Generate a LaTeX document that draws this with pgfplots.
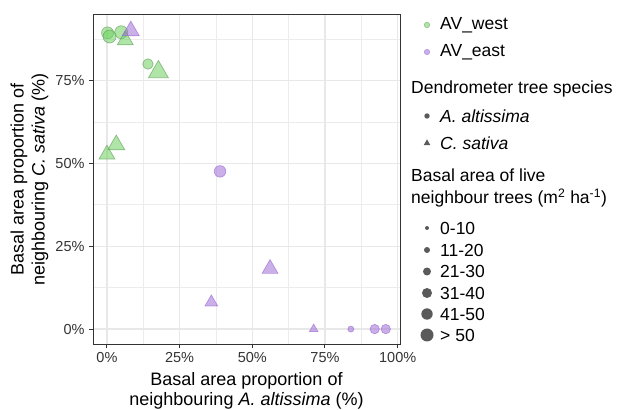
\documentclass[border=0pt]{standalone}
\usepackage{pgfplots}
\pgfplotsset{compat=1.18}
\usepackage{fontspec}
\setmainfont{Liberation Sans}
\definecolor{gfill}{RGB}{110,210,97}
\definecolor{gdraw}{RGB}{90,150,85}
\definecolor{pfill}{RGB}{160,110,215}
\definecolor{pdraw}{RGB}{150,100,210}
\definecolor{axgray}{RGB}{51,51,51}
\definecolor{keygray}{RGB}{90,90,90}

\pgfplotstableread{
x y r
0.2 89.4 6
0.9 88.3 6.5
4.9 89.6 6.5
14.1 80.0 5.2
}\gcirc
\pgfplotstableread{
x y r
6.3 87.2 9.2
17.7 77.6 11.5
3.2 55.6 9.8
0.0 52.7 9.2
}\gtri
\pgfplotstableread{
x y r
38.9 47.6 5.8
83.9 0 3
92.1 0 4.7
95.9 0 4.7
}\pcirc
\pgfplotstableread{
x y r
8.2 90.0 9.8
56.1 18.2 9.2
35.9 8.1 7.3
71.1 0 5
}\ptri

\pgfplotsset{
  gstyle/.style={scatter, only marks, point meta=0,
    scatter/use mapped color={draw=gdraw, fill=gfill},
    visualization depends on={\thisrow{r}\as\msz},
    scatter/@pre marker code/.append style={/tikz/mark size=\msz},
    mark options={fill opacity=0.55, draw opacity=0.6, line width=0.7pt}},
  pstyle/.style={scatter, only marks, point meta=0,
    scatter/use mapped color={draw=pdraw, fill=pfill},
    visualization depends on={\thisrow{r}\as\msz},
    scatter/@pre marker code/.append style={/tikz/mark size=\msz},
    mark options={fill opacity=0.55, draw opacity=0.6, line width=0.7pt}},
}

\begin{document}
\begin{tikzpicture}
\useasboundingbox (0,0) rectangle (628pt,409pt);
\begin{axis}[
  at={(93pt,65pt)}, anchor=south west,
  scale only axis, width=307pt, height=329pt,
  xmin=-4.8, xmax=100.8, ymin=-4.5, ymax=94.8,
  xtick={0,25,50,75,100}, ytick={0,25,50,75},
  minor xtick={12.5,37.5,62.5,87.5}, minor ytick={12.5,37.5,62.5,87.5},
  xticklabels={0\%,25\%,50\%,75\%,100\%},
  yticklabels={0\%,25\%,50\%,75\%},
  grid=both,
  major grid style={color=gray!18, line width=1.5pt},
  minor grid style={color=gray!15, line width=0.8pt},
  axis line style={axgray, line width=1pt},
  major tick style={axgray, line width=1pt},
  minor tick length=0pt,
  major tick length=4pt, tick align=outside,
  xtick pos=bottom, ytick pos=left,
  tick label style={font=\fontsize{14.5}{17}\selectfont, text=black!80},
  xticklabel style={yshift=-1pt},
  yticklabel style={xshift=-1pt},
  xlabel={Basal area proportion of\\neighbouring \textit{A. altissima} (\%)},
  ylabel={Basal area proportion of\\neighbouring \textit{C. sativa} (\%)},
  xlabel style={at={(axis description cs:0.5,0)}, anchor=center, yshift=-46.5pt,
    align=center, font=\fontsize{18}{20}\selectfont},
  ylabel style={at={(axis description cs:0,0.5)}, anchor=center, yshift=63.5pt,
    align=center, font=\fontsize{18}{21}\selectfont},
  clip=false,
]
\addplot[gstyle, mark=*] table[x=x,y=y] {\gcirc};
\addplot[gstyle, mark=triangle*] table[x=x,y=y] {\gtri};
\addplot[pstyle, mark=*] table[x=x,y=y] {\pcirc};
\addplot[pstyle, mark=triangle*] table[x=x,y=y] {\ptri};
\end{axis}

% legend
\begin{scope}[every node/.style={anchor=west, inner sep=0pt, font=\fontsize{17.5}{22}\selectfont}]
\filldraw[draw=gdraw, fill=gfill, fill opacity=0.55, draw opacity=0.6, line width=0.6pt] (427pt,384pt) circle (2.7pt);
\node at (440pt,384pt) {AV\_west};
\filldraw[draw=pdraw, fill=pfill, fill opacity=0.55, draw opacity=0.6, line width=0.6pt] (427pt,357pt) circle (2.7pt);
\node at (440pt,357pt) {AV\_east};
\node at (411pt,320pt) {Dendrometer tree species};
\fill[keygray] (427pt,293pt) circle (2.7pt);
\node at (440pt,293pt) {\textit{A. altissima}};
\fill[keygray] (427pt,265.8pt) ++(0,3.8pt) -- ++(-3.3pt,-5.7pt) -- ++(6.6pt,0) -- cycle;
\node at (440pt,265.8pt) {\textit{C. sativa}};
\node[align=left, anchor=north west] at (411pt,240.5pt) {Basal area of live\\neighbour trees (m\textsuperscript{2} ha\textsuperscript{-1})};
\fill[keygray] (427pt,181pt) circle (2pt);
\node at (440pt,181pt) {0-10};
\fill[keygray] (427pt,159pt) circle (3pt);
\node at (440pt,159pt) {11-20};
\fill[keygray] (427pt,137.5pt) circle (4pt);
\node at (440pt,137.5pt) {21-30};
\fill[keygray] (427pt,116pt) circle (5pt);
\node at (440pt,116pt) {31-40};
\fill[keygray] (427pt,95pt) circle (5.7pt);
\node at (440pt,95pt) {41-50};
\fill[keygray] (427pt,74pt) circle (6.5pt);
\node at (440pt,74pt) {> 50};
\end{scope}
\end{tikzpicture}
\end{document}
